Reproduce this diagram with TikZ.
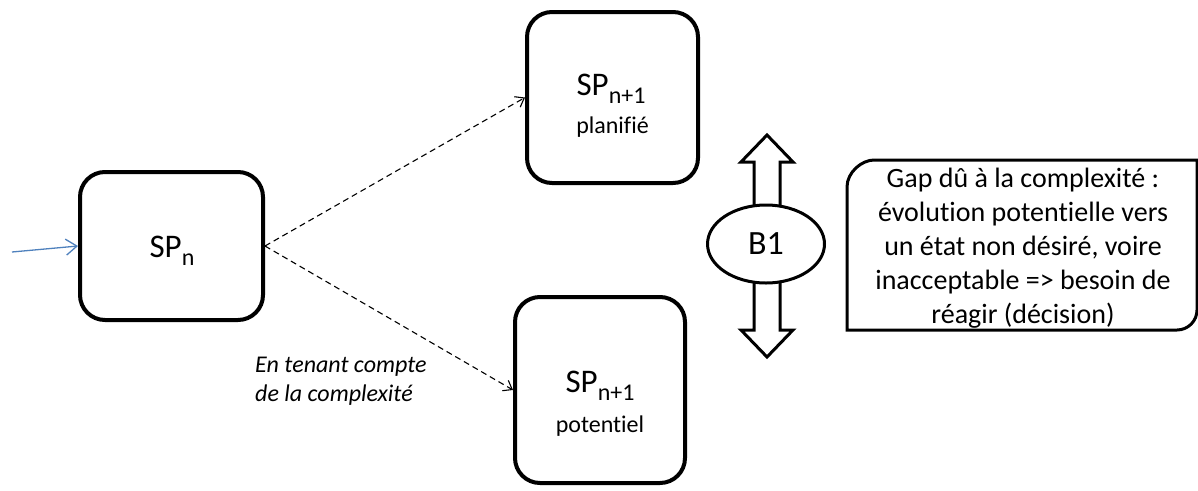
\documentclass[tikz,border=0pt]{standalone}
\usepackage{fontspec}
\setmainfont{Carlito}[Ligatures={NoCommon}]
\usetikzlibrary{arrows.meta,shapes.geometric}
\newcommand\mysubtxt[1]{\raisebox{-8pt}{\fontsize{24}{28}\selectfont #1}}
\definecolor{arrowblue}{RGB}{79,129,189}
\tikzset{
  spbox/.style={draw, line width=4pt, rounded corners=25pt, fill=white},
  bigtxt/.style={font=\fontsize{33}{38}\selectfont, inner sep=0pt},
  smalltxt/.style={font=\fontsize{24}{28}\selectfont, inner sep=0pt},
  dasharrow/.style={draw, dash pattern=on 6pt off 4pt, line width=1.1pt,
    -{Straight Barb[length=8pt,width=12pt,line width=1.1pt]}},
  bluearrow/.style={draw=arrowblue, line width=1.3pt,
    -{Straight Barb[length=11pt,width=16pt,line width=1.3pt]}},
  outline/.style={draw, line width=3pt, fill=white, line join=miter},
}
\begin{document}
\begin{tikzpicture}[x=1pt,y=-1pt]
\useasboundingbox (0,0) rectangle (1198,490);
\fill[white] (0,0) rectangle (1198,490);

% boxes
\node[spbox, minimum width=183pt, minimum height=148pt] (spn) at (171.5,246) {};
\node[spbox, minimum width=171pt, minimum height=171pt] (plan) at (612.5,97.5) {};
\node[spbox, minimum width=170pt, minimum height=186pt] (pot) at (600,390) {};

% texts in boxes
\node[bigtxt, anchor=base] (spn-t) at (172,257) {SP\mysubtxt{n}};
\node[bigtxt, anchor=base] (plan-t) at (611,95) {SP\mysubtxt{n+1}};
\node[smalltxt, anchor=base] (plan-s) at (612.5,133) {planifié};
\node[bigtxt, anchor=base] (pot-t) at (600,392) {SP\mysubtxt{n+1}};
\node[smalltxt, anchor=base] (pot-s) at (600,432) {potentiel};

% incoming blue arrow
\coordinate (in) at (12,252);
\draw[bluearrow] (in) -- (spn.west);

% dashed arrows
\draw[dasharrow] (spn.east) -- (plan.west);
\draw[dasharrow] (spn.east) -- (pot.west);

% italic label
\node[font={\fontsize{24}{29}\selectfont\itshape}, align=left, anchor=north west, inner sep=0pt]
  (lab) at (255,356.5) {En tenant compte\\de la complexité};

% double arrow
\draw[outline] (767,135) -- (793,162) -- (780,162) -- (780,330) -- (793,330)
  -- (767,357) -- (741,330) -- (754,330) -- (754,162) -- (741,162) -- cycle;
\node[ellipse, draw, line width=3pt, fill=white, minimum width=117pt, minimum height=78pt,
  inner sep=0pt, font=\fontsize{34}{40}\selectfont] (b1) at (766,244) {B1};

% gap box
\draw[outline] (847,330) -- (847,187) .. controls (847,172.1) and (861.9,160) .. (874,160)
  -- (1197,160) -- (1197,310) .. controls (1197,321) and (1188,330) .. (1177,330) -- cycle;
\node[font={\fontsize{28}{34}\selectfont}, align=center, inner sep=0pt] (gap) at (1023,248)
  {Gap dû à la complexité :\\évolution potentielle vers\\un état non désiré, voire\\inacceptable => besoin de\\réagir (décision)};
\end{tikzpicture}
\end{document}
